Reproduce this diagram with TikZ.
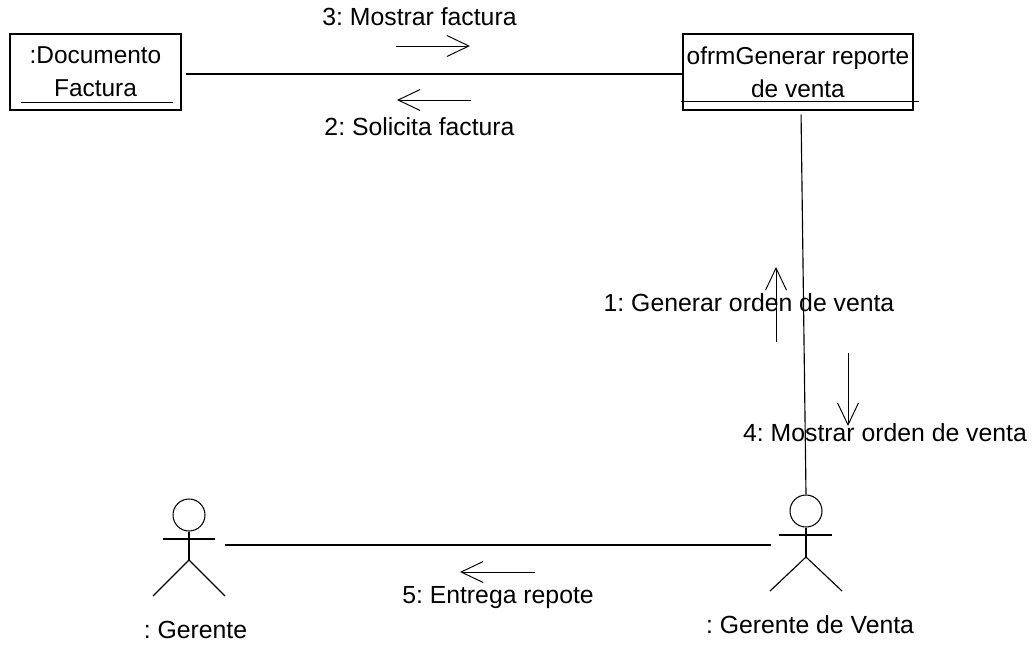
\documentclass[tikz,border=0pt]{standalone}
\usepackage{fontspec}
\setmainfont{Liberation Sans}
\usetikzlibrary{positioning, arrows.meta}
\frenchspacing

\begin{document}
\begin{tikzpicture}[x=0.02cm, y=-0.02cm]
    \tikzstyle{object} = [draw, rectangle, line width=0.7pt, inner sep=0, align=center, font=\fontsize{13.9}{17.6}\selectfont];
    \tikzstyle{head} = [draw, circle, line width=0.6pt, inner sep=0, minimum size=0.64cm];
    \tikzstyle{label} = [inner sep=0, font=\fontsize{14.1}{16}\selectfont];
    \tikzstyle{link} = [line width=0.65pt];
    \tikzstyle{message} = [line width=0.55pt, -{Straight Barb[length=0.44cm, width=0.42cm]}];

    \useasboundingbox (0, 0) rectangle (1033, 653);

    % objects
    \node[object, minimum width=3.42cm, minimum height=1.52cm] (doc) at (95.5, 72) {\raisebox{1pt}{:Documento}\\Factura};
    \node[object, minimum width=4.6cm, minimum height=1.52cm] (form) at (798, 72) {\raisebox{1pt}{ofrmGenerar reporte}\\de venta};

    \draw[link] ([xshift=0.24cm, yshift=0.16cm]doc.south west) -- ([xshift=-0.18cm, yshift=0.16cm]doc.south east);
    \draw[link] ([xshift=-0.02cm, yshift=0.18cm]form.south west) -- ([xshift=0.1cm, yshift=0.18cm]form.south east);

    % actors
    \node[head] (gerente) at (189, 515) {};
    \coordinate (gerenteHip) at (189, 560);
    \draw[link] (gerente.south) -- (gerenteHip);
    \draw[link] (163, 539) -- (215, 539);
    \draw[link] (153, 596) -- (gerenteHip) -- (225, 596);
    \node[label] (gerenteName) at (195.5, 630) {: Gerente};

    \node[head] (ventas) at (806, 511) {};
    \coordinate (ventasHip) at (806, 557);
    \draw[link] (ventas.south) -- (ventasHip);
    \draw[link] (779, 535) -- (832, 535);
    \draw[link] (770, 591) -- (ventasHip) -- (842, 591);
    \node[label] (ventasName) at (810, 625) {: Gerente de Venta};

    % links
    \coordinate (gerenteEnd) at (225, 545);
    \coordinate (ventasEnd) at (771, 545);
    \draw[link, shorten <=0.08cm] ([yshift=-0.04cm]doc.east) -- ([yshift=-0.04cm]form.west);
    \draw[link, shorten <=0.08cm] ([xshift=0.06cm]form.south) -- (ventas.north);
    \draw[link] (gerenteEnd) -- (ventasEnd);

    % messages
    \node[label] (m3) at (419.5, 17) {3: Mostrar factura};
    \coordinate (m3a) at (396, 46);
    \coordinate (m3b) at (470, 46);
    \draw[message] (m3a) -- (m3b);

    \node[label] (m2) at (419.5, 127) {2: Solicita factura};
    \coordinate (m2a) at (471, 100);
    \coordinate (m2b) at (397, 100);
    \draw[message] (m2a) -- (m2b);

    \node[label] (m1) at (749, 303) {1: Generar orden de venta};
    \coordinate (m1a) at (776, 342);
    \coordinate (m1b) at (776, 267);
    \draw[message] (m1a) -- (m1b);

    \node[label] (m4) at (885, 433) {4: Mostrar orden de venta};
    \coordinate (m4a) at (848, 353);
    \coordinate (m4b) at (848, 426);
    \draw[message] (m4a) -- (m4b);

    \node[label] (m5) at (498, 598) {5: Entrega repote};
    \coordinate (m5a) at (535, 572);
    \coordinate (m5b) at (460, 572);
    \draw[message] (m5a) -- (m5b);
\end{tikzpicture}
\end{document}
